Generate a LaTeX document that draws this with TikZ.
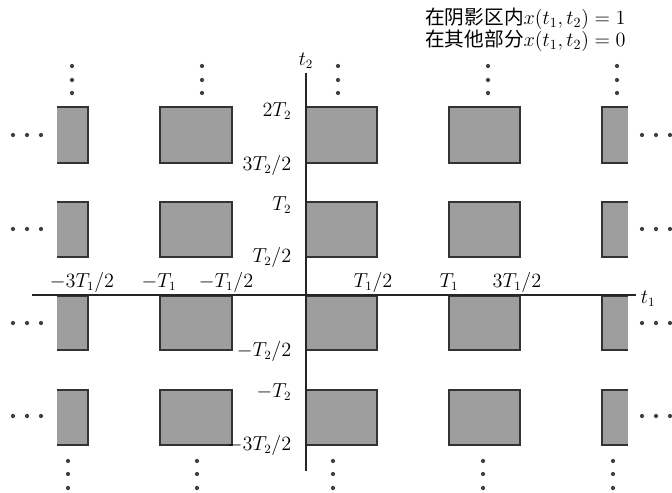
\documentclass[tikz,border=0pt]{standalone}
\usepackage{fontspec}
\newfontfamily\cjk{Noto Sans CJK SC}
\begin{document}
\begin{tikzpicture}[x=0.025cm,y=-0.025cm,
    boxfill/.style={fill=black!38},
    boxrim/.style={draw=black!80, line width=1pt},
    box/.style={boxfill, boxrim},
    axis/.style={draw=black!85, line width=0.9pt},
    lab/.style={font=\fontsize{13.5}{16}\selectfont, inner sep=1pt},
    dot/.style={circle, fill=black!75, inner sep=0pt, minimum size=3pt}]
    % Fix the page size
    \useasboundingbox (0,0) rectangle (672,493);

    % Draw the shaded boxes
    \foreach \ya/\yb in {107/163,202/257,296/350,390/445} {
        \foreach \xa/\xb in {160/232,306/377,449/520}
            \filldraw[box] (\xa,\ya) rectangle (\xb,\yb);
        % Boxes cut off at the edges
        \fill[boxfill] (57,\ya) rectangle (88,\yb);
        \draw[boxrim] (57,\ya) -- (88,\ya) -- (88,\yb) -- (57,\yb);
        \fill[boxfill] (602,\ya) rectangle (628,\yb);
        \draw[boxrim] (628,\ya) -- (602,\ya) -- (602,\yb) -- (628,\yb);
    }

    % Draw the axes
    \coordinate (t1start) at (32,295);
    \coordinate (t1end) at (636,295);
    \coordinate (t2start) at (306,471);
    \coordinate (t2end) at (306,73);
    \draw[axis] (t1start) -- (t1end) node[lab, anchor=west, xshift=2pt, yshift=-3pt] (t1lab) {$t_1$};
    \draw[axis] (t2start) -- (t2end) node[lab, anchor=south, yshift=2pt] (t2lab) {$t_2$};

    % Label t1-axis
    \foreach \x/\txt in {82/{-3T_1/2},159/{-T_1},226/{-T_1/2},373/{T_1/2},449/{T_1},517/{3T_1/2}}
        \node[lab, anchor=base] (h\x) at (\x,287) {$\txt$};
    % Label t2-axis
    \foreach \y/\txt in {111/{2T_2},165/{3T_2/2},205/{T_2},257/{T_2/2},351/{-T_2/2},392/{-T_2},445/{-3T_2/2}}
        \node[lab, anchor=east] (v\y) at (293,\y) {$\txt$};

    % Dots above and below the columns
    \foreach \x in {72,202,338,488,617}
        \foreach \y in {66,80,93}
            \node[dot] (u\x\y) at (\x,\y) {};
    \foreach \x in {68,197,333,483,613}
        \foreach \y in {461,474,488}
            \node[dot] (d\x\y) at (\x,\y) {};
    % Dots left and right of the rows
    \foreach \y in {135,229,323,416} {
        \foreach \x in {13,27,41}
            \node[dot] (l\x\y) at (\x,\y) {};
        \foreach \x in {642,656,670}
            \node[dot] (r\x\y) at (\x,\y) {};
    }

    % Legend
    \node[anchor=west, inner sep=0pt, font=\fontsize{14}{16}\selectfont] (legend1) at (425,19)
        {{\cjk 在阴影区内}$x(t_1,t_2)=1$};
    \node[anchor=west, inner sep=0pt, font=\fontsize{14}{16}\selectfont] (legend2) at (425,41)
        {{\cjk 在其他部分}$x(t_1,t_2)=0$};

\end{tikzpicture}
\end{document}
